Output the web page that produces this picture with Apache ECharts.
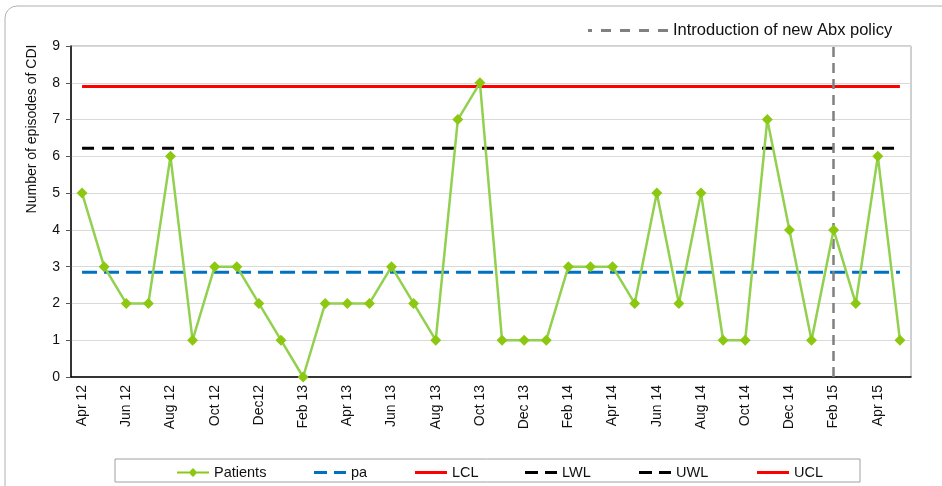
<!DOCTYPE html>
<html><head><meta charset="utf-8">
<script src="https://cdn.jsdelivr.net/npm/echarts@6/dist/echarts.min.js"></script>
<style>html,body{margin:0;padding:0;background:#fff}#c{width:942px;height:486px}</style>
</head><body><div id="c"></div>
<script>
const categories = ['Apr 12','May 12','Jun 12','Jul 12','Aug 12','Sep 12','Oct 12','Nov 12','Dec12','Jan 13','Feb 13','Mar 13','Apr 13','May 13','Jun 13','Jul 13','Aug 13','Sep 13','Oct 13','Nov 13','Dec 13','Jan 14','Feb 14','Mar 14','Apr 14','May 14','Jun 14','Jul 14','Aug 14','Sep 14','Oct 14','Nov 14','Dec 14','Jan 15','Feb 15','Mar 15','Apr 15','May 15'];
const patients = [5,3,2,2,6,1,3,3,2,1,0,2,2,2,3,2,1,7,8,1,1,1,3,3,3,2,5,2,5,1,1,7,4,1,4,2,6,1];
const paValue = 2.85;
const uwlValue = 6.22;
const uclValue = 7.9;
const policyMonth = 'Feb 15';
const yTicks = [0,1,2,3,4,5,6,7,8,9];

const pa = categories.map(() => paValue);
const uwl = categories.map(() => uwlValue);
const ucl = categories.map(() => uclValue);

const chart = echarts.init(document.getElementById('c'));
const font = 'Liberation Sans, Arial, sans-serif';
const dashIcon = 'path://M0,0h13v3h-13z M20,0h12v3h-12z';
const solidIcon = 'path://M0,0h32v3h-32z';
const patIcon = 'path://M0,3.5h12v2h-12z M11.5,4.5l4.5,-4.5l4.5,4.5l-4.5,4.5z M20,3.5h12v2h-12z';
const policyIcon = 'path://M0,0h4v3h-4z M13,0h10v3h-10z M32,0h10v3h-10z M51,0h10v3h-10z M70,0h10v3h-10z';
function leg(name, left, icon, h) {
  return { left: left, top: 460, itemWidth: 32, itemHeight: h, icon: icon,
    textStyle: { fontSize: 14.5, color: '#111', fontFamily: font }, data: [name] };
}
chart.setOption({
  animation: false,
  textStyle: { fontFamily: font },
  grid: { left: 71, right: 31, top: 46, bottom: 109, show: true, borderColor: '#a0a0a0', borderWidth: 1 },
  xAxis: {
    type: 'category', data: categories, boundaryGap: true,
    axisLine: { lineStyle: { color: '#000', width: 1.5 } },
    axisTick: { interval: 0, length: 5, lineStyle: { color: '#555' } },
    axisLabel: { interval: 1, rotate: 90, fontSize: 14, color: '#111', margin: 8, fontFamily: font },
    splitLine: { show: false }
  },
  yAxis: {
    type: 'value', min: yTicks[0], max: yTicks[yTicks.length-1], interval: 1,
    axisLine: { show: true, lineStyle: { color: '#000', width: 1.5 } },
    axisTick: { show: true, length: 5, lineStyle: { color: '#555' } },
    axisLabel: { fontSize: 14, color: '#111', margin: 11, fontFamily: font },
    splitLine: { lineStyle: { color: '#d9d9d9', width: 1 } }
  },
  legend: [
    leg('Patients', 172, patIcon, 9),
    leg('pa', 309, dashIcon, 3),
    leg('LCL', 410, solidIcon, 3),
    leg('LWL', 520, dashIcon, 3),
    leg('UWL', 634, dashIcon, 3),
    leg('UCL', 752, solidIcon, 3),
    { left: 583, top: 17, itemWidth: 80, itemHeight: 3, icon: policyIcon,
      textStyle: { fontSize: 16.5, color: '#111', fontFamily: font },
      data: ['Introduction of new Abx policy'] }
  ],
  graphic: [
    { type: 'rect', shape: { x: 5, y: 6, width: 960, height: 500, r: 12 }, style: { fill: 'none', stroke: '#b0b0b0', lineWidth: 1 }, silent: true },
    { type: 'rect', shape: { x: 115, y: 459, width: 745, height: 23 }, style: { fill: 'none', stroke: '#a0a0a0', lineWidth: 1 }, silent: true },
    { type: 'text', x: 32, y: 129, rotation: Math.PI/2, style: { text: 'Number of episodes of CDI', fontSize: 14, fill: '#111', fontFamily: font, align: 'center', verticalAlign: 'middle' } }
  ],
  series: [
    { name: 'pa', type: 'line', data: pa, symbol: 'none', lineStyle: { color: '#0070c0', width: 3, type: [15,7] }, itemStyle: { color: '#0070c0' }, z: 2 },
    { name: 'LCL', type: 'line', data: [], symbol: 'none', lineStyle: { color: '#ff0000', width: 3 }, itemStyle: { color: '#ff0000' } },
    { name: 'LWL', type: 'line', data: [], symbol: 'none', lineStyle: { color: '#000', width: 3, type: [12,8] }, itemStyle: { color: '#000' } },
    { name: 'UWL', type: 'line', data: uwl, symbol: 'none', lineStyle: { color: '#000', width: 3, type: [12,8] }, itemStyle: { color: '#000' }, z: 2 },
    { name: 'UCL', type: 'line', data: ucl, symbol: 'none', lineStyle: { color: '#ff0000', width: 3 }, itemStyle: { color: '#ff0000' }, z: 2 },
    { name: 'Introduction of new Abx policy', type: 'line', data: [], symbol: 'none',
      lineStyle: { color: '#808080', width: 3 }, itemStyle: { color: '#808080' },
      markLine: { silent: true, symbol: 'none', label: { show: false },
        lineStyle: { color: '#808080', width: 2.5, type: [10,6] },
        data: [{ xAxis: policyMonth }] }, z: 3 },
    { name: 'Patients', type: 'line', data: patients, symbol: 'diamond', symbolSize: 11,
      lineStyle: { color: '#92d050', width: 2.5 }, itemStyle: { color: '#8cc811' }, z: 5 }
  ]
});
</script></body></html>
